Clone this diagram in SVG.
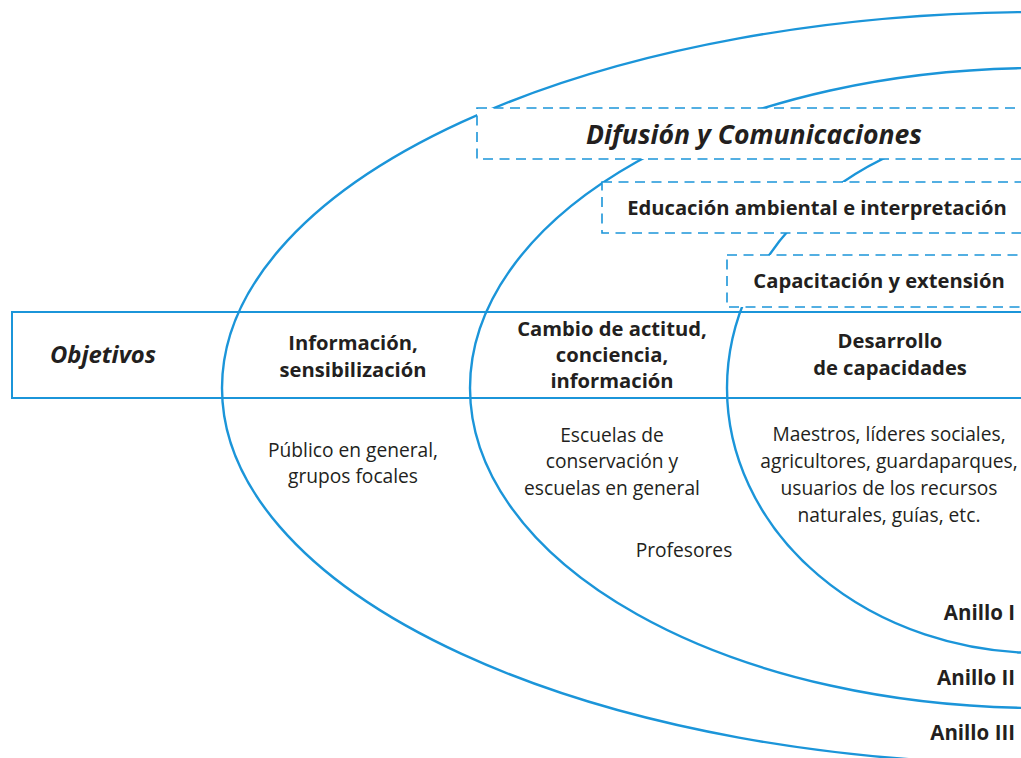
<svg xmlns="http://www.w3.org/2000/svg" width="1021" height="758" viewBox="0 0 1021 758">
<style>
.ring{fill:none;stroke:#1b95d9;stroke-width:2.4}
.dbox{fill:#fff;stroke:#1b95d9;stroke-width:1.6;stroke-dasharray:10 6.5}
.band{fill:none;stroke:#1b95d9;stroke-width:2}
text{font-family:"Open Sans","Liberation Sans",sans-serif;fill:#231f20;text-anchor:middle}
.b{font-weight:bold;font-size:20.2px}
.bi{font-weight:bold;font-style:italic}
.r{font-size:19.2px}
.anillo{font-weight:bold;font-size:20.5px;text-anchor:end}
</style>
<rect width="1021" height="758" fill="#fff"/>
<g id="connectors">
<ellipse id="anillo3" class="ring" cx="1040" cy="388" rx="818" ry="376"/>
<ellipse id="anillo2" class="ring" cx="1040" cy="388" rx="570" ry="320"/>
<ellipse id="anillo1" class="ring" cx="1040" cy="388" rx="313" ry="265"/>
</g>
<g id="difusion">
<rect class="dbox" x="477" y="108" width="560" height="51"/>
<text class="bi" x="754" y="144" font-size="26.6">Difusión y Comunicaciones</text>
</g>
<g id="educacion">
<rect class="dbox" x="602" y="182" width="440" height="51"/>
<text class="b" x="817" y="215">Educación ambiental e interpretación</text>
</g>
<g id="capacitacion">
<rect class="dbox" x="727" y="255" width="310" height="52"/>
<text class="b" x="879" y="288">Capacitación y extensión</text>
</g>
<g id="objetivos">
<rect class="band" x="12" y="312" width="1030" height="86"/>
<text class="bi" x="103" y="363" font-size="23.8">Objetivos</text>
</g>
<g id="informacion">
<text class="b" x="353" y="350">Información,</text>
<text class="b" x="353" y="377">sensibilización</text>
</g>
<g id="cambio">
<text class="b" x="612" y="336" font-size="19px">Cambio de actitud,</text>
<text class="b" x="612" y="362" font-size="19px">conciencia,</text>
<text class="b" x="612" y="388" font-size="19px">información</text>
</g>
<g id="desarrollo">
<text class="b" x="890" y="348">Desarrollo</text>
<text class="b" x="890" y="375">de capacidades</text>
</g>
<g id="publico">
<text class="r" x="353" y="457">Público en general,</text>
<text class="r" x="353" y="483">grupos focales</text>
</g>
<g id="escuelas">
<text class="r" x="612" y="442">Escuelas de</text>
<text class="r" x="612" y="468">conservación y</text>
<text class="r" x="612" y="495">escuelas en general</text>
</g>
<g id="maestros">
<text class="r" x="889" y="441">Maestros, líderes sociales,</text>
<text class="r" x="889" y="468">agricultores, guardaparques,</text>
<text class="r" x="889" y="495">usuarios de los recursos</text>
<text class="r" x="889" y="522">naturales, guías, etc.</text>
</g>
<g id="profesores">
<text class="r" x="684" y="557">Profesores</text>
</g>
<g id="anillos">
<text class="anillo" x="1015" y="620">Anillo I</text>
<text class="anillo" x="1015" y="685">Anillo II</text>
<text class="anillo" x="1015" y="740">Anillo III</text>
</g>
</svg>
